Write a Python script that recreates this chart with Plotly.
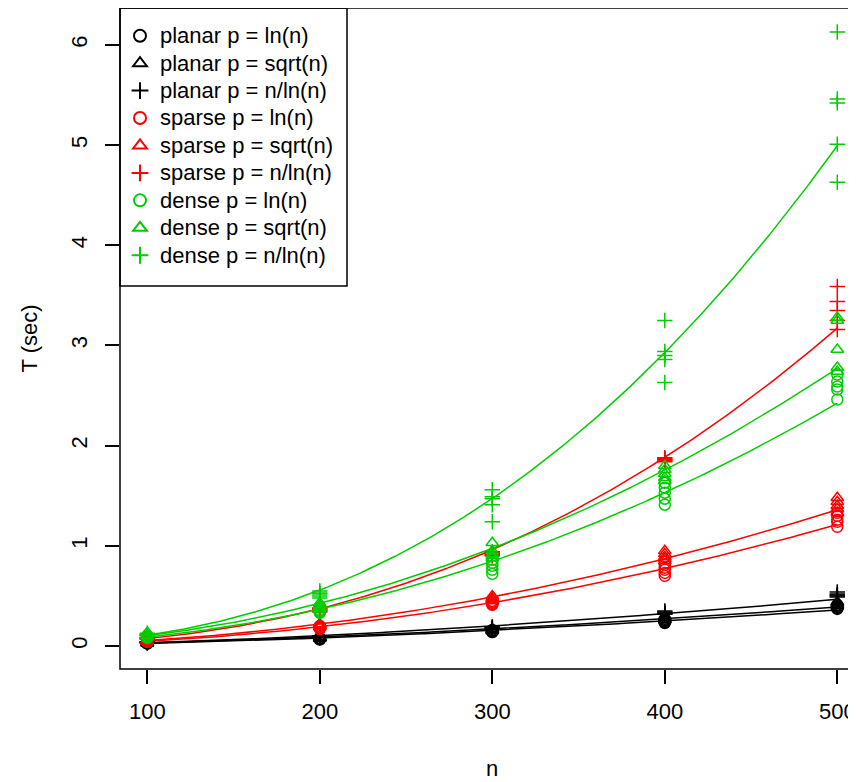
import numpy as np
import plotly.graph_objects as go

# ---------------- data ----------------
n_levels = [100, 200, 300, 400, 500]

# replicated timings (sec) at each n, one inner list per n
planar_ln = [[0.032, 0.029, 0.027, 0.026, 0.024],
             [0.080, 0.075, 0.070, 0.070, 0.065],
             [0.160, 0.150, 0.150, 0.140, 0.140],
             [0.270, 0.260, 0.250, 0.240, 0.230],
             [0.410, 0.400, 0.390, 0.380, 0.370]]
planar_sqrt = [[0.038, 0.033, 0.032, 0.027, 0.026],
               [0.090, 0.085, 0.080, 0.080, 0.075],
               [0.170, 0.165, 0.160, 0.155, 0.150],
               [0.290, 0.280, 0.270, 0.260, 0.260],
               [0.440, 0.430, 0.420, 0.410, 0.400]]
planar_nln = [[0.042, 0.040, 0.035, 0.034, 0.029],
              [0.100, 0.095, 0.090, 0.090, 0.085],
              [0.190, 0.185, 0.180, 0.175, 0.170],
              [0.350, 0.340, 0.330, 0.320, 0.320],
              [0.540, 0.520, 0.510, 0.500, 0.490]]
sparse_ln = [[0.060, 0.054, 0.046, 0.045, 0.040],
             [0.200, 0.190, 0.180, 0.180, 0.170],
             [0.450, 0.440, 0.430, 0.420, 0.410],
             [0.810, 0.780, 0.760, 0.730, 0.700],
             [1.330, 1.300, 1.260, 1.240, 1.190]]
sparse_sqrt = [[0.068, 0.062, 0.055, 0.054, 0.048],
               [0.220, 0.210, 0.200, 0.200, 0.190],
               [0.500, 0.480, 0.470, 0.460, 0.450],
               [0.950, 0.920, 0.890, 0.870, 0.850],
               [1.480, 1.440, 1.400, 1.370, 1.330]]
sparse_nln = [[0.086, 0.080, 0.075, 0.074, 0.068],
              [0.380, 0.370, 0.360, 0.350, 0.340],
              [0.940, 0.930, 0.920, 0.910, 0.900],
              [1.880, 1.870, 1.860, 1.850, 1.840],
              [3.590, 3.440, 3.350, 3.250, 3.160]]
dense_ln = [[0.104, 0.098, 0.092, 0.086, 0.081],
            [0.380, 0.360, 0.350, 0.340, 0.330],
            [0.860, 0.830, 0.800, 0.760, 0.720],
            [1.630, 1.580, 1.530, 1.470, 1.410],
            [2.710, 2.640, 2.590, 2.560, 2.460]]
dense_sqrt = [[0.135, 0.112, 0.106, 0.101, 0.095],
              [0.430, 0.410, 0.390, 0.380, 0.370],
              [1.030, 0.950, 0.920, 0.900, 0.880],
              [1.800, 1.760, 1.720, 1.680, 1.650],
              [3.280, 3.250, 2.960, 2.780, 2.740]]
dense_nln = [[0.127, 0.115, 0.115, 0.104, 0.104],
             [0.550, 0.530, 0.520, 0.500, 0.480],
             [1.560, 1.490, 1.470, 1.410, 1.240],
             [3.250, 2.940, 2.900, 2.860, 2.630],
             [6.130, 5.460, 5.420, 5.010, 4.630]]

series_names = ["planar p = ln(n)", "planar p = sqrt(n)", "planar p = n/ln(n)",
                "sparse p = ln(n)", "sparse p = sqrt(n)", "sparse p = n/ln(n)",
                "dense p = ln(n)", "dense p = sqrt(n)", "dense p = n/ln(n)"]
series_values = [planar_ln, planar_sqrt, planar_nln,
                 sparse_ln, sparse_sqrt, sparse_nln,
                 dense_ln, dense_sqrt, dense_nln]
series_colors = ["#000000"] * 3 + ["#FF0000"] * 3 + ["#00CD00"] * 3
series_symbols = ["circle-open", "triangle-up-open", "cross-thin-open"] * 3
symbol_sizes = {"circle-open": 11, "triangle-up-open": 11, "cross-thin-open": 11}

x_ticks = [100, 200, 300, 400, 500]
y_ticks = [0, 1, 2, 3, 4, 5, 6]

FONT = "Liberation Sans, Arial, Helvetica, sans-serif"

fig = go.Figure()

n_grid = np.linspace(min(n_levels), max(n_levels), 300)
for name, vals, col, sym in zip(series_names, series_values, series_colors, series_symbols):
    xs = np.repeat(n_levels, [len(v) for v in vals])
    ys = np.concatenate([np.asarray(v, float) for v in vals])
    fig.add_trace(go.Scatter(
        x=xs, y=ys, mode="markers",
        name='<span style="font-size:22px">' + name.replace(" = ", "\u00a0=\u00a0") + "</span>",
        marker=dict(symbol=sym, size=symbol_sizes[sym], color=col,
                    line=dict(color=col, width=1.5)),
    ))
    # power-law fit  T = a * n^b  (log-log least squares)
    b, loga = np.polyfit(np.log(xs), np.log(ys), 1)
    fig.add_trace(go.Scatter(
        x=n_grid, y=np.exp(loga) * n_grid ** b, mode="lines",
        line=dict(color=col, width=1.5), showlegend=False, hoverinfo="skip",
    ))

# page has an 8px body margin: the figure starts at (8, 8) in the window
W, H = 848, 774
ml, mt, mb, mr = 112, 0, 113, 0
PW, PH = W - ml - mr, H - mt - mb
px_per_x = 690.0 / 400.0
x0 = 100 - (147.3 - 120) / px_per_x
x1 = x0 + PW / px_per_x
px_per_y = 100.17
y0 = -(669 - 646) / px_per_y
y1 = y0 + PH / px_per_y

# legend frame (R-style box with extra inner padding)
leg_w, leg_h, leg_pad = 227, 278, 9

fig.update_layout(
    width=W, height=H,
    margin=dict(l=ml, r=mr, t=mt, b=mb, pad=0),
    paper_bgcolor="white", plot_bgcolor="white",
    font=dict(family=FONT, size=22, color="black"),
    showlegend=True,
    legend=dict(x=0, y=1 - leg_pad / PH, xanchor="left", yanchor="top",
                borderwidth=0, bgcolor="rgba(255,255,255,0)",
                font=dict(size=18.8, family=FONT), tracegroupgap=0,
                itemsizing="constant"),
    xaxis=dict(range=[x0, x1], tickvals=x_ticks, ticktext=[str(v) for v in x_ticks],
               ticks="outside", ticklen=14, tickwidth=1.5, tickcolor="black",
               showgrid=False, zeroline=False, showline=False,
               ticklabelstandoff=9, tickfont=dict(size=22)),
    yaxis=dict(range=[y0, y1], tickvals=y_ticks, ticktext=[str(v) for v in y_ticks],
               ticks="outside", ticklen=14, tickwidth=1.5, tickcolor="black",
               showgrid=False, zeroline=False, showline=False, tickangle=-90,
               ticklabelstandoff=9, tickfont=dict(size=22)),
    shapes=[
        dict(type="rect", xref="paper", yref="paper", x0=0, x1=1.05, y0=0, y1=1,
             line=dict(color="black", width=1.5), layer="above"),
        dict(type="rect", xref="paper", yref="paper", x0=0, x1=leg_w / PW,
             y0=1 - leg_h / PH, y1=1, line=dict(color="black", width=1.5),
             fillcolor="rgba(0,0,0,0)", layer="above"),
    ],
    annotations=[
        dict(text="n", xref="x", yref="paper", x=300, y=0, yshift=-99,
             showarrow=False, font=dict(size=22, family=FONT), yanchor="middle"),
        dict(text="T (sec)", xref="paper", yref="y", x=0, y=(y0 + y1) / 2, xshift=-91,
             showarrow=False, textangle=-90, font=dict(size=22, family=FONT),
             xanchor="center"),
    ],
)

fig.write_html("out.html")
